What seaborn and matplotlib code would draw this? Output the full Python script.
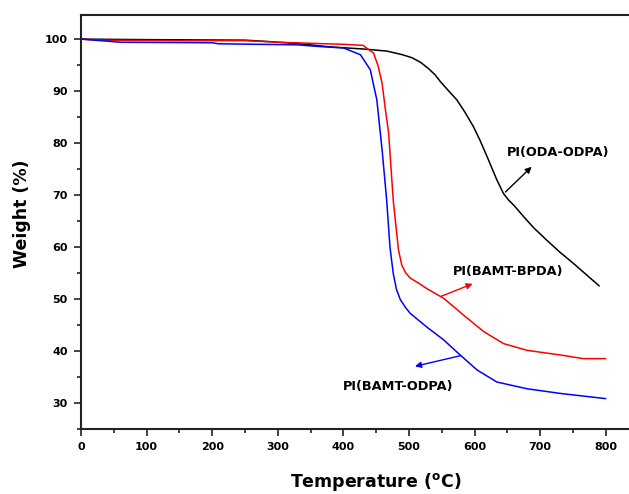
import numpy as np
import pandas as pd
import matplotlib
matplotlib.use("Agg")
import matplotlib.pyplot as plt
import seaborn as sns
from matplotlib.ticker import MultipleLocator

# ---- data ----
oda_odpa_T = [0, 100, 250, 290, 334, 380, 430, 466, 490, 505, 518, 530, 540, 548, 560, 573, 585, 598, 608, 619, 627, 634, 644, 652, 660, 675, 690, 710, 730, 751, 770, 790]
oda_odpa_W = [100, 99.9, 99.8, 99.5, 99.1, 98.5, 98.1, 97.7, 97.0, 96.4, 95.5, 94.3, 93.1, 91.8, 90.1, 88.3, 86.0, 83.2, 80.6, 77.4, 75.0, 72.9, 70.3, 69.0, 68.0, 65.8, 63.7, 61.3, 59.0, 56.8, 54.7, 52.5]

bamt_bpda_T = [0, 30, 150, 250, 300, 350, 400, 430, 446, 453, 459, 464, 469, 476, 484, 489, 495, 502, 515, 527, 553, 583, 614, 644, 680, 731, 766, 800]
bamt_bpda_W = [100, 99.8, 99.7, 99.7, 99.4, 99.2, 99.0, 98.8, 97.3, 94.8, 91.5, 86.5, 81.9, 69.0, 59.4, 56.5, 55.0, 54.0, 53.0, 52.0, 50.1, 46.9, 43.7, 41.4, 40.1, 39.2, 38.5, 38.5]

bamt_odpa_T = [0, 30, 60, 200, 210, 330, 360, 400, 426, 441, 451, 459, 466, 471, 476, 481, 487, 495, 502, 527, 553, 578, 604, 634, 680, 731, 800]
bamt_odpa_W = [100, 99.7, 99.4, 99.3, 99.1, 98.9, 98.6, 98.3, 97.0, 94.1, 88.3, 78.7, 69.0, 60.0, 54.9, 51.8, 49.8, 48.3, 47.2, 44.6, 42.1, 39.2, 36.3, 34.0, 32.7, 31.8, 30.8]

series = ["PI(ODA-ODPA)", "PI(BAMT-BPDA)", "PI(BAMT-ODPA)"]
x_ticks = [0, 100, 200, 300, 400, 500, 600, 700, 800]
y_ticks = [30, 40, 50, 60, 70, 80, 90, 100]

df = pd.concat([
    pd.DataFrame({"T": oda_odpa_T, "W": oda_odpa_W, "s": series[0]}),
    pd.DataFrame({"T": bamt_bpda_T, "W": bamt_bpda_W, "s": series[1]}),
    pd.DataFrame({"T": bamt_odpa_T, "W": bamt_odpa_W, "s": series[2]}),
], ignore_index=True)

sns.set_theme(style="ticks")
plt.rcParams["font.family"] = ["DejaVu Sans"]
plt.rcParams["text.color"] = "black"
plt.rcParams["axes.labelcolor"] = "black"

fig = plt.figure(figsize=(6.29, 4.94), dpi=100)
ax = fig.add_axes([81 / 629, 64.7 / 494, 1.0 - 81 / 629 + 0.01, (429.3 - 14.7) / 494])

palette = {series[0]: "#000000", series[1]: "#ff0000", series[2]: "#0000ff"}
sns.lineplot(data=df, x="T", y="W", hue="s", palette=palette, ax=ax,
             linewidth=1.1, legend=False, sort=False, estimator=None)

ax.set_xlim(0, 845)
ax.set_ylim(24.9, 104.7)
ax.set_xticks(x_ticks)
ax.set_yticks(y_ticks)
ax.set_xticklabels([str(v) for v in x_ticks], fontsize=8, fontweight="bold")
ax.set_yticklabels([str(v) for v in y_ticks], fontsize=8, fontweight="bold")
ax.xaxis.set_minor_locator(MultipleLocator(50))
ax.yaxis.set_minor_locator(MultipleLocator(5))
ax.tick_params(which="major", direction="out", length=5, width=1.2, color="#222222",
               labelcolor="black", pad=4.5)
ax.tick_params(which="minor", direction="out", length=3, width=1.2, color="#222222")
for sp in ["left", "bottom", "top"]:
    ax.spines[sp].set_linewidth(1.5)
    ax.spines[sp].set_color("#222222")
ax.spines["right"].set_visible(False)

ax.set_xlabel("Temperature ($^{\\mathbf{o}}$C)", fontsize=12.5, fontweight="bold", color="black")
ax.set_ylabel("Weight (%)", fontsize=12.5, fontweight="bold", color="black")
ax.xaxis.set_label_coords((376 - 81) / (629 * ax.get_position().width), -(482 - 429.3) / 414.6)
ax.yaxis.set_label_coords(-(81 - 22) / (629 * ax.get_position().width), 0.52)
ax.xaxis.label.set_va("center")
ax.yaxis.label.set_va("center")

# annotations with arrows
ax.annotate("", xy=(690, 75.8), xytext=(644, 70.2),
            arrowprops=dict(arrowstyle="-|>", color="black", lw=1.0, mutation_scale=9))
ax.text(727, 78.2, series[0], fontsize=9.3, fontweight="bold", ha="center", va="center", color="black")

ax.annotate("", xy=(601, 53.1), xytext=(545, 50.3),
            arrowprops=dict(arrowstyle="-|>", color="red", lw=1.0, mutation_scale=9))
ax.text(651, 55.2, series[1], fontsize=9.3, fontweight="bold", ha="center", va="center", color="black")

ax.annotate("", xy=(505, 36.9), xytext=(583, 39.2),
            arrowprops=dict(arrowstyle="-|>", color="blue", lw=1.0, mutation_scale=9))
ax.text(484, 33.2, series[2], fontsize=9.3, fontweight="bold", ha="center", va="center", color="black")

fig.savefig("out.png", dpi=100)
